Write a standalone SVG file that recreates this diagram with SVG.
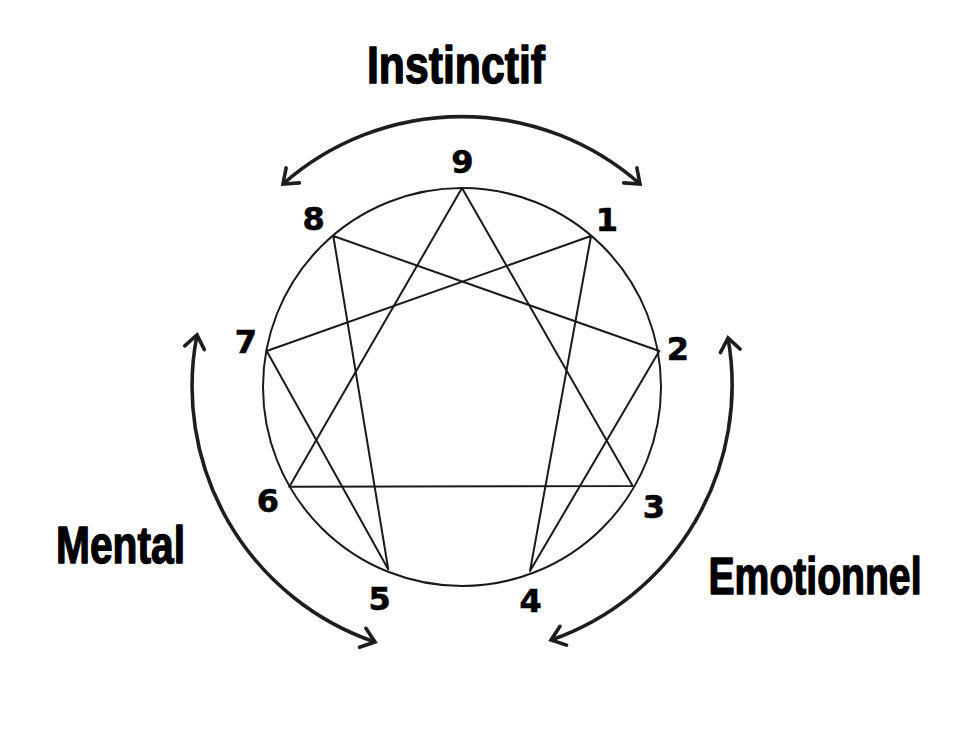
<svg xmlns="http://www.w3.org/2000/svg" width="976" height="738" viewBox="0 0 976 738">
<style>
.ln{fill:none;stroke:#1a1a1a;stroke-width:2;stroke-linejoin:round}
.arc{fill:none;stroke:#1e1e1e;stroke-width:3.6;marker-start:url(#ah);marker-end:url(#ah)}
.num{font-family:"DejaVu Sans",Verdana,sans-serif;font-weight:bold;font-size:32px;fill:#000;stroke:#000;stroke-width:0.6;text-anchor:middle}
.lbl{font-family:"Liberation Sans",Arial,sans-serif;font-weight:bold;font-size:40px;fill:#000;stroke:#000;stroke-width:1.1;stroke-linejoin:round}
</style>
<defs>
<marker id="ah" markerUnits="userSpaceOnUse" markerWidth="40" markerHeight="40" viewBox="-20 -20 40 40" refX="0" refY="0" orient="auto-start-reverse" overflow="visible">
<path d="M-13,-10 L0,0 L-13,10" fill="none" stroke="#1e1e1e" stroke-width="3.6" stroke-linecap="round" stroke-linejoin="miter"/>
</marker>
</defs>
<rect width="976" height="738" fill="#fff"/>
<g id="enneagram">
<circle class="ln" cx="462" cy="387" r="199"/>
</g>
<g id="connectors">
<polygon class="ln" points="462,188 632.7,486 289.3,486.7"/>
<polygon class="ln" points="591,236 530,571 659.3,351 333.3,236 388.3,569.5 266.7,351"/>
<path class="arc" d="M283,184 A270,270 0 0 1 640,184"/>
<path class="arc" d="M197,335 A270,270 0 0 0 375,642"/>
<path class="arc" d="M728,338 A270,270 0 0 1 551,640"/>
</g>
<g id="point-9"><text class="num" x="462.5" y="172.7">9</text></g>
<g id="point-1"><text class="num" x="607" y="230.7">1</text></g>
<g id="point-2"><text class="num" x="678" y="360">2</text></g>
<g id="point-3"><text class="num" x="654" y="518.3">3</text></g>
<g id="point-4"><text class="num" x="530.7" y="611.7">4</text></g>
<g id="point-5"><text class="num" x="379.7" y="610">5</text></g>
<g id="point-6"><text class="num" x="268" y="511.7">6</text></g>
<g id="point-7"><text class="num" x="246" y="352.7">7</text></g>
<g id="point-8"><text class="num" x="313.7" y="230">8</text></g>
<g id="label-instinctif" transform="translate(367,83.3) scale(1,1.3)"><text class="lbl" x="0" y="0" textLength="178" lengthAdjust="spacingAndGlyphs">Instinctif</text></g>
<g id="label-mental" transform="translate(56,562.7) scale(1,1.3)"><text class="lbl" x="0" y="0" textLength="129" lengthAdjust="spacingAndGlyphs">Mental</text></g>
<g id="label-emotionnel" transform="translate(708.5,594.3) scale(1,1.3)"><text class="lbl" x="0" y="0" textLength="213" lengthAdjust="spacingAndGlyphs">Emotionnel</text></g>
</svg>
